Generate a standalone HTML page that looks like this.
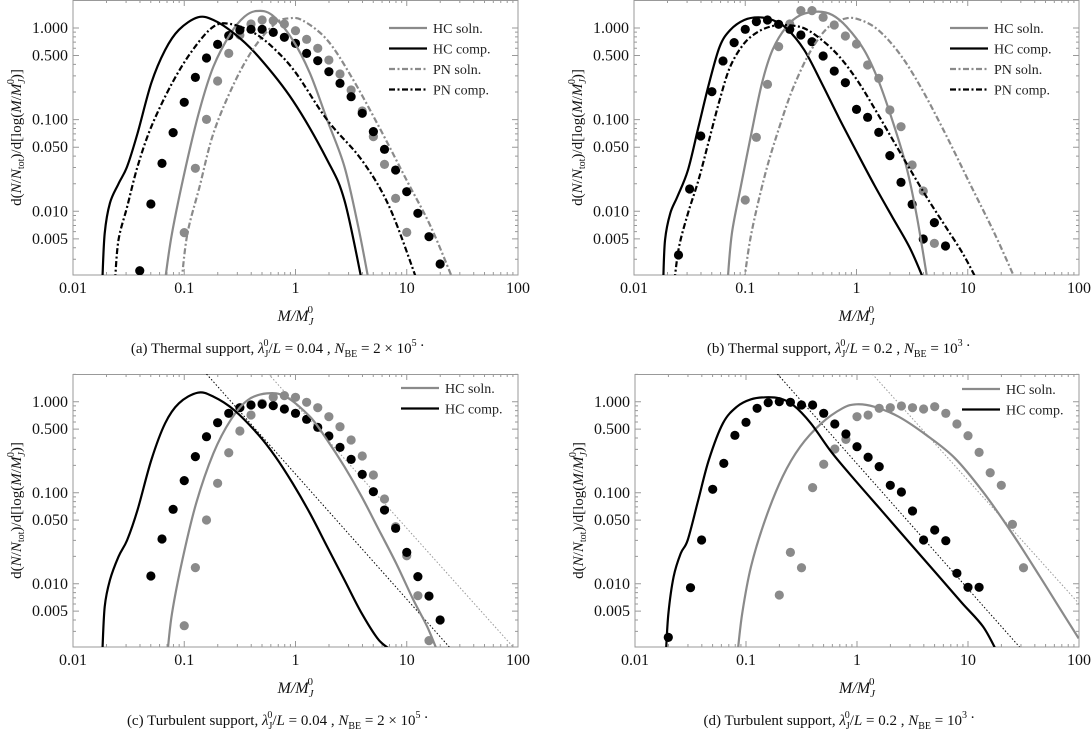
<!DOCTYPE html>
<html><head><meta charset="utf-8"><style>
html,body{margin:0;padding:0;background:#fff;}
svg{display:block;font-family:"Liberation Serif",serif;}
</style></head><body>
<svg id="fig" width="1092" height="730" viewBox="0 0 1092 730" xmlns="http://www.w3.org/2000/svg"></svg>
<script>
// ===== Panel (a) data (log10 values) =====
const aHCsolnLX=[-1.172,-1.110,-0.986,-0.862,-0.738,-0.583,-0.459,-0.350,-0.211,-0.025,0.130,0.285,0.440,0.564,0.657];
const aHCsolnLY=[-2.75,-2.24,-1.513,-0.895,-0.422,-0.059,0.123,0.185,0.141,-0.131,-0.495,-1.004,-1.513,-2.168,-2.75];
const aHCcompLX=[-1.736,-1.715,-1.668,-1.591,-1.513,-1.420,-1.296,-1.172,-1.048,-0.878,-0.738,-0.552,-0.335,-0.025,0.285,0.440,0.595];
const aHCcompLY=[-2.75,-2.24,-1.91,-1.70,-1.51,-1.15,-0.60,-0.24,-0.02,0.116,0.087,-0.06,-0.31,-0.79,-1.44,-1.88,-2.75];
const aPNsolnLX=[-1.023,-0.971,-0.862,-0.738,-0.552,-0.366,-0.180,-0.056,0.068,0.285,0.502,0.750,0.998,1.216,1.417];
const aPNsolnLY=[-2.75,-2.24,-1.731,-1.15,-0.604,-0.204,0.05,0.105,0.08,-0.131,-0.531,-1.077,-1.659,-2.168,-2.75];
const aPNcompLX=[-1.622,-1.591,-1.513,-1.420,-1.296,-1.110,-0.924,-0.738,-0.583,-0.366,-0.180,0.006,0.285,0.595,0.843,1.091];
const aPNcompLY=[-2.75,-2.313,-1.95,-1.513,-1.077,-0.604,-0.240,0.014,0.043,-0.059,-0.240,-0.495,-1.004,-1.44,-1.95,-2.75];
const aBlackPtsLX=[-1.4,-1.3,-1.2,-1.1,-1.0,-0.9,-0.8,-0.7,-0.6,-0.5,-0.4,-0.3,-0.2,-0.1,0,0.1,0.2,0.3,0.4,0.5,0.6,0.7,0.8,0.9,1.0,1.1,1.2,1.3];
const aBlackPtsLY=[-2.648,-1.92,-1.477,-1.142,-0.811,-0.539,-0.328,-0.179,-0.084,-0.022,-0.015,-0.015,-0.048,-0.102,-0.168,-0.277,-0.357,-0.477,-0.604,-0.75,-0.931,-1.131,-1.324,-1.55,-1.786,-2.022,-2.277,-2.575];
const aGrayPtsLX=[-1.0,-0.9,-0.8,-0.7,-0.6,-0.5,-0.4,-0.3,-0.2,-0.1,0,0.1,0.2,0.3,0.4,0.5,0.6,0.7,0.8,0.9,1.0];
const aGrayPtsLY=[-2.233,-1.531,-0.997,-0.579,-0.277,-0.077,0.043,0.087,0.080,0.043,-0.03,-0.124,-0.222,-0.35,-0.502,-0.677,-0.906,-1.186,-1.488,-1.859,-2.23];
// ===== Panel (b) data =====
const bHCsolnLX=[-1.158,-1.120,-1.040,-0.945,-0.850,-0.755,-0.629,-0.502,-0.344,-0.217,-0.090,0.068,0.195,0.321,0.448,0.543,0.638];
const bHCsolnLY=[-2.75,-2.24,-1.731,-1.15,-0.604,-0.24,0.014,0.141,0.178,0.141,0.014,-0.24,-0.568,-1.004,-1.513,-2.059,-2.75];
const bHCcompLX=[-1.737,-1.721,-1.674,-1.610,-1.515,-1.420,-1.325,-1.230,-1.135,-1.009,-0.882,-0.755,-0.629,-0.470,-0.312,-0.154,0.005,0.163,0.321,0.480,0.606];
const bHCcompLY=[-2.75,-2.313,-2.022,-1.84,-1.55,-1.077,-0.604,-0.204,-0.022,0.087,0.116,0.087,-0.004,-0.24,-0.604,-0.99,-1.36,-1.72,-2.06,-2.40,-2.75];
const bPNsolnLX=[-1.009,-0.945,-0.819,-0.692,-0.565,-0.407,-0.249,-0.090,0.036,0.195,0.385,0.575,0.797,1.018,1.240,1.430];
const bPNsolnLY=[-2.75,-2.24,-1.586,-1.077,-0.64,-0.24,0.014,0.105,0.087,-0.022,-0.277,-0.64,-1.15,-1.695,-2.24,-2.75];
const bPNcompLX=[-1.636,-1.595,-1.515,-1.420,-1.325,-1.230,-1.135,-1.009,-0.882,-0.755,-0.629,-0.470,-0.312,-0.154,0.005,0.163,0.321,0.480,0.638,0.797,0.955,1.082];
const bPNcompLY=[-2.75,-2.386,-2.022,-1.659,-1.222,-0.786,-0.422,-0.168,-0.04,0.021,0.032,-0.004,-0.131,-0.313,-0.568,-0.88,-1.21,-1.54,-1.86,-2.16,-2.46,-2.75];
const bBlackPtsLX=[-1.6,-1.5,-1.4,-1.3,-1.2,-1.1,-1.0,-0.9,-0.8,-0.7,-0.6,-0.5,-0.4,-0.3,-0.2,-0.1,0,0.1,0.2,0.3,0.4,0.5,0.6,0.7,0.8];
const bBlackPtsLY=[-2.477,-1.757,-1.179,-0.695,-0.36,-0.16,-0.015,0.069,0.087,0.04,-0.015,-0.077,-0.15,-0.306,-0.47,-0.597,-0.888,-0.975,-1.139,-1.393,-1.684,-1.924,-2.302,-2.124,-2.379];
const bGrayPtsLX=[-1.0,-0.9,-0.8,-0.7,-0.6,-0.5,-0.4,-0.3,-0.2,-0.1,0,0.1,0.2,0.3,0.4,0.5,0.6,0.7];
const bGrayPtsLY=[-1.877,-1.193,-0.615,-0.204,0.043,0.189,0.189,0.116,0.032,-0.088,-0.175,-0.404,-0.55,-0.895,-1.077,-1.495,-1.779,-2.35];
// ===== Panel (c) data =====
const cHCsolnLX=[-1.150,-1.110,-1.017,-0.893,-0.738,-0.583,-0.428,-0.257,-0.087,0.130,0.285,0.440,0.595,0.750,0.905,1.060,1.184,1.278];
const cHCsolnLY=[-2.75,-2.325,-1.739,-1.116,-0.567,-0.201,0.019,0.092,0.056,-0.164,-0.421,-0.714,-1.043,-1.409,-1.776,-2.179,-2.472,-2.75];
const cHCcompLX=[-1.736,-1.715,-1.668,-1.591,-1.513,-1.420,-1.296,-1.172,-1.048,-0.878,-0.738,-0.552,-0.335,-0.180,-0.025,0.130,0.285,0.440,0.595,0.750,0.890];
const cHCcompLY=[-2.75,-2.252,-1.959,-1.702,-1.519,-1.189,-0.640,-0.237,-0.017,0.10,0.056,-0.091,-0.36,-0.604,-0.897,-1.226,-1.593,-1.959,-2.325,-2.62,-2.75];
const cDotBlackLX=[-0.80,1.386], cDotBlackLY=[0.305,-2.70];
const cDotGrayLX=[-0.242,1.96], cDotGrayLY=[0.305,-2.70];
const cBlackPtsLX=[-1.3,-1.2,-1.1,-1.0,-0.9,-0.8,-0.7,-0.6,-0.5,-0.4,-0.3,-0.2,-0.1,0,0.1,0.2,0.3,0.4,0.5,0.6,0.7,0.8,0.9,1.0,1.1,1.2,1.3];
const cBlackPtsLY=[-1.915,-1.508,-1.182,-0.867,-0.603,-0.384,-0.23,-0.127,-0.065,-0.036,-0.028,-0.043,-0.080,-0.127,-0.193,-0.281,-0.376,-0.501,-0.633,-0.798,-0.988,-1.19,-1.391,-1.655,-1.922,-2.135,-2.398];
const cGrayPtsLX=[-1.0,-0.9,-0.8,-0.7,-0.6,-0.5,-0.4,-0.3,-0.2,-0.1,0,0.1,0.2,0.3,0.4,0.5,0.6,0.7,0.8,0.9,1.0,1.1,1.2];
const cGrayPtsLY=[-2.461,-1.823,-1.299,-0.896,-0.56,-0.321,-0.146,-0.017,0.049,0.067,0.049,-0.006,-0.065,-0.164,-0.274,-0.42,-0.596,-0.805,-1.069,-1.373,-1.692,-2.131,-2.625];
// ===== Panel (d) data =====
const dHCsolnLX=[-1.075,-1.034,-0.955,-0.828,-0.670,-0.511,-0.321,-0.131,-0.005,0.154,0.375,0.629,0.882,1.135,1.389,1.642,1.832,1.997];
const dHCsolnLY=[-2.75,-2.325,-1.812,-1.299,-0.823,-0.493,-0.237,-0.072,-0.028,-0.054,-0.164,-0.37,-0.62,-0.99,-1.43,-1.91,-2.28,-2.6];
const dHCcompLX=[-1.721,-1.699,-1.652,-1.588,-1.525,-1.430,-1.335,-1.208,-1.082,-0.955,-0.828,-0.701,-0.575,-0.416,-0.226,-0.005,0.217,0.470,0.724,0.945,1.135,1.262];
const dHCcompLY=[-2.75,-2.325,-1.922,-1.666,-1.519,-1.08,-0.64,-0.237,-0.054,0.027,0.049,0.038,-0.036,-0.237,-0.56,-0.88,-1.19,-1.545,-1.9,-2.21,-2.47,-2.75];
const dDotBlackLX=[-0.717,1.468], dDotBlackLY=[0.305,-2.70];
const dDotGrayLX=[0.138,1.997], dDotGrayLY=[0.305,-2.215];
const dBlackPtsLX=[-1.7,-1.5,-1.4,-1.3,-1.2,-1.1,-1.0,-0.9,-0.8,-0.7,-0.6,-0.5,-0.4,-0.3,-0.2,-0.1,0,0.1,0.2,0.3,0.4,0.5,0.6,0.7,0.8,0.9,1.0,1.1];
const dBlackPtsLY=[-2.589,-2.043,-1.519,-0.962,-0.677,-0.369,-0.226,-0.072,-0.01,0.001,-0.006,-0.036,-0.036,-0.127,-0.244,-0.354,-0.494,-0.61,-0.713,-0.918,-0.992,-1.20,-1.519,-1.409,-1.527,-1.885,-2.039,-2.039];
const dGrayPtsLX=[-0.7,-0.6,-0.5,-0.4,-0.3,-0.2,-0.1,0,0.1,0.2,0.3,0.4,0.5,0.6,0.7,0.8,0.9,1.0,1.1,1.2,1.3,1.4,1.5];
const dGrayPtsLY=[-2.124,-1.655,-1.824,-0.944,-0.687,-0.519,-0.413,-0.164,-0.146,-0.072,-0.065,-0.047,-0.065,-0.08,-0.054,-0.127,-0.244,-0.373,-0.556,-0.78,-0.918,-1.347,-1.824];
// ===== axis data =====
const xTickVals=[-2,-1,0,1,2];
const xTickLabels=["0.01","0.1","1","10","100"];
const yTickVals=[0.005,0.01,0.05,0.1,0.5,1];
const yTickLabels=["0.005","0.010","0.050","0.100","0.500","1.000"];
const LXMIN=-2, LXMAX=2, LYMIN=-2.695, LYMAX=0.305;

const NS="http://www.w3.org/2000/svg";
const svg=document.getElementById('fig');
const GRAY="#8a8a8a";
function mk(tag,attrs,parent){const e=document.createElementNS(NS,tag);for(const k in attrs)e.setAttribute(k,attrs[k]);(parent||svg).appendChild(e);return e;}

function smooth(pts){
  let d="M"+pts[0][0].toFixed(2)+","+pts[0][1].toFixed(2);
  for(let i=0;i<pts.length-1;i++){
    const p0=pts[Math.max(0,i-1)],p1=pts[i],p2=pts[i+1],p3=pts[Math.min(pts.length-1,i+2)];
    const c1=[p1[0]+(p2[0]-p0[0])/6,p1[1]+(p2[1]-p0[1])/6];
    const c2=[p2[0]-(p3[0]-p1[0])/6,p2[1]-(p3[1]-p1[1])/6];
    d+="C"+c1[0].toFixed(2)+","+c1[1].toFixed(2)+" "+c2[0].toFixed(2)+","+c2[1].toFixed(2)+" "+p2[0].toFixed(2)+","+p2[1].toFixed(2);
  }
  return d;
}

function panel(id,x0,x1,y0,y1,cfg){
  const sx=lx=>x0+(lx-LXMIN)/(LXMAX-LXMIN)*(x1-x0);
  const sy=ly=>y0+(LYMAX-ly)/(LYMAX-LYMIN)*(y1-y0);
  const g=mk('g',{});
  
  
  const cp=mk('clipPath',{id:'clip'+id},g);
  mk('rect',{x:x0,y:y0,width:x1-x0,height:y1-y0},cp);
  const fr=mk('rect',{x:x0,y:y0+0.5,width:x1-x0,height:y1-y0-0.5,fill:'none',stroke:'#999','stroke-width':1},g);
  
  
  for(let dcd=-2;dcd<2;dcd++){for(let m=1;m<=9;m++){
    const lx=dcd+Math.log10(m);const X=sx(lx);const L=m===1?6:3;
    const t=mk('path',{d:`M${X},${y1}v${-L}M${X},${y0}v${L}`,stroke:'#999','stroke-width':1},g);
    
    
  }}
  xTickVals.forEach((v,i)=>{
    const t=mk('text',{x:sx(v),y:y1+18,'text-anchor':'middle','font-size':16,fill:'#111'},g);
    t.textContent=xTickLabels[i];
    
    
  });
  for(let dcd=-3;dcd<1;dcd++){for(let m=1;m<=9;m++){
    const ly=dcd+Math.log10(m);if(ly<LYMIN||ly>LYMAX)continue;
    const Y=sy(ly);const L=(m===1||m===5)?6:3;
    const t=mk('path',{d:`M${x0},${Y}h${L}M${x1},${Y}h${-L}`,stroke:'#999','stroke-width':1},g);
    
    
  }}
  yTickVals.forEach((v,i)=>{
    const t=mk('text',{x:x0-5,y:sy(Math.log10(v))+5,'text-anchor':'end','font-size':16,fill:'#111'},g);
    t.textContent=yTickLabels[i];
    
    
  });
  const pg=mk('g',{'clip-path':`url(#clip${id})`},g);
  (cfg.dots||[]).forEach(dl=>{
    const p=mk('line',{x1:sx(dl.lx[0]),y1:sy(dl.ly[0]),x2:sx(dl.lx[1]),y2:sy(dl.ly[1]),stroke:dl.color,'stroke-width':1,'stroke-dasharray':'1.5,2'},pg);
    
    
  });
  cfg.pts.forEach(ps=>{
    ps.lx.forEach((v,i)=>{
      const c=mk('circle',{cx:sx(v),cy:sy(ps.ly[i]),r:4.6,fill:ps.color},pg);
      
      
    });
  });
  cfg.curves.forEach(cv=>{
    const pts=cv.lx.map((v,i)=>[sx(v),sy(cv.ly[i])]);
    const p=mk('path',{d:smooth(pts),fill:'none',stroke:cv.color,'stroke-width':2.2,'stroke-dasharray':cv.dash||'none'},pg);
    
    
  });
  cfg.curves.forEach((cv,i)=>{
    const ly=cfg.legY+i*20.5;
    const l=mk('line',{x1:cfg.legX,y1:ly,x2:cfg.legX+38,y2:ly,stroke:cv.color,'stroke-width':2.2,'stroke-dasharray':cv.dash||'none'},g);
    
    
    const t=mk('text',{x:cfg.legX+44,y:ly+5,'font-size':14,fill:'#222'},g);
    t.textContent=cv.label;
    
    
  });
  const cy=(y0+y1)/2, tx=x0-52;
  const yt=mk('text',{transform:`translate(${tx},${cy}) rotate(-90)`,'text-anchor':'middle','font-size':15,fill:'#111'},g);
  yt.innerHTML='d(<tspan font-style="italic">N</tspan>/<tspan font-style="italic">N</tspan><tspan font-size="10" dy="3">tot</tspan><tspan dy="-3">)/d[log(</tspan><tspan font-style="italic">M</tspan>/<tspan font-style="italic">M</tspan><tspan font-size="10" font-style="italic" dy="4">J</tspan><tspan font-size="10" dx="-5" dy="-11">0</tspan><tspan dy="7">)]</tspan>';
  
  
  const xt=mk('text',{x:(x0+x1)/2,y:y1+46,'text-anchor':'middle','font-size':16,'font-style':'italic',fill:'#111'},g);
  xt.innerHTML='M/M<tspan font-size="11" dy="4">J</tspan><tspan font-size="11" font-style="normal" dx="-6" dy="-12">0</tspan>';
  
  
  const cap=mk('text',{x:(x0+x1)/2-18,y:y1+78,'text-anchor':'middle','font-size':15,fill:'#111'},g);
  cap.innerHTML=cfg.caption;
  
  
}

const GDASH='6,2.5,2,2.5', BDASH='6,2.5,2,2.5';
function cap(letter,kind,ratio,nbe){
  return `(${letter})  ${kind} support, <tspan font-style="italic">λ</tspan><tspan font-size="10" dy="4">J</tspan><tspan font-size="10" dx="-5" dy="-11">0</tspan><tspan dy="7">/</tspan><tspan font-style="italic">L</tspan> = ${ratio} , <tspan font-style="italic">N</tspan><tspan font-size="10" dy="4">BE</tspan><tspan dy="-4"> = ${nbe} .</tspan>`;
}
panel('a',73,518,0,275,{legX:389,legY:28,
  caption:cap('a','Thermal','0.04','2 × 10<tspan font-size="10" dy="-7">5</tspan><tspan dy="7"></tspan>'),
  curves:[{name:'hc-soln-curve',label:'HC soln.',color:GRAY,lx:aHCsolnLX,ly:aHCsolnLY},
          {name:'hc-comp-curve',label:'HC comp.',color:'#000',lx:aHCcompLX,ly:aHCcompLY},
          {name:'pn-soln-curve',label:'PN soln.',color:GRAY,dash:GDASH,lx:aPNsolnLX,ly:aPNsolnLY},
          {name:'pn-comp-curve',label:'PN comp.',color:'#000',dash:BDASH,lx:aPNcompLX,ly:aPNcompLY}],
  pts:[{name:'gray-point',color:GRAY,lx:aGrayPtsLX,ly:aGrayPtsLY},{name:'black-point',color:'#000',lx:aBlackPtsLX,ly:aBlackPtsLY}]});
panel('b',634,1079,0,275,{legX:950,legY:28,
  caption:cap('b','Thermal','0.2','10<tspan font-size="10" dy="-7">3</tspan><tspan dy="7"></tspan>'),
  curves:[{name:'hc-soln-curve',label:'HC soln.',color:GRAY,lx:bHCsolnLX,ly:bHCsolnLY},
          {name:'hc-comp-curve',label:'HC comp.',color:'#000',lx:bHCcompLX,ly:bHCcompLY},
          {name:'pn-soln-curve',label:'PN soln.',color:GRAY,dash:GDASH,lx:bPNsolnLX,ly:bPNsolnLY},
          {name:'pn-comp-curve',label:'PN comp.',color:'#000',dash:BDASH,lx:bPNcompLX,ly:bPNcompLY}],
  pts:[{name:'gray-point',color:GRAY,lx:bGrayPtsLX,ly:bGrayPtsLY},{name:'black-point',color:'#000',lx:bBlackPtsLX,ly:bBlackPtsLY}]});
panel('c',73,518,374,647,{legX:401,legY:388,
  caption:cap('c','Turbulent','0.04','2 × 10<tspan font-size="10" dy="-7">5</tspan><tspan dy="7"></tspan>'),
  dots:[{name:'power-law-black',color:'#000',lx:cDotBlackLX,ly:cDotBlackLY},{name:'power-law-gray',color:'#999',lx:cDotGrayLX,ly:cDotGrayLY}],
  curves:[{name:'hc-soln-curve',label:'HC soln.',color:GRAY,lx:cHCsolnLX,ly:cHCsolnLY},
          {name:'hc-comp-curve',label:'HC comp.',color:'#000',lx:cHCcompLX,ly:cHCcompLY}],
  pts:[{name:'gray-point',color:GRAY,lx:cGrayPtsLX,ly:cGrayPtsLY},{name:'black-point',color:'#000',lx:cBlackPtsLX,ly:cBlackPtsLY}]});
panel('d',635,1079,374,647,{legX:962,legY:389,
  caption:cap('d','Turbulent','0.2','10<tspan font-size="10" dy="-7">3</tspan><tspan dy="7"></tspan>'),
  dots:[{name:'power-law-black',color:'#000',lx:dDotBlackLX,ly:dDotBlackLY},{name:'power-law-gray',color:'#999',lx:dDotGrayLX,ly:dDotGrayLY}],
  curves:[{name:'hc-soln-curve',label:'HC soln.',color:GRAY,lx:dHCsolnLX,ly:dHCsolnLY},
          {name:'hc-comp-curve',label:'HC comp.',color:'#000',lx:dHCcompLX,ly:dHCcompLY}],
  pts:[{name:'gray-point',color:GRAY,lx:dGrayPtsLX,ly:dGrayPtsLY},{name:'black-point',color:'#000',lx:dBlackPtsLX,ly:dBlackPtsLY}]});
</script>
</body></html>
